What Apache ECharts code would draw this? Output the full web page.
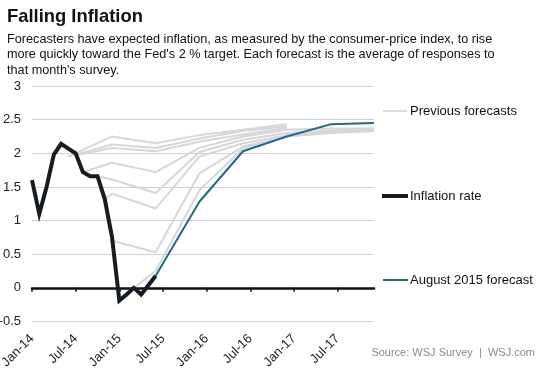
<!DOCTYPE html>
<html><head><meta charset="utf-8">
<script src="https://cdn.jsdelivr.net/npm/echarts@6/dist/echarts.min.js"></script>
<style>html,body{margin:0;padding:0;background:#fff}#c{width:553px;height:369px}</style>
</head><body><div id="c"></div>
<script>
const months = [
 'Jan-14','Feb-14','Mar-14','Apr-14','May-14','Jun-14','Jul-14','Aug-14','Sep-14','Oct-14','Nov-14','Dec-14',
 'Jan-15','Feb-15','Mar-15','Apr-15','May-15','Jun-15','Jul-15','Aug-15','Sep-15','Oct-15','Nov-15','Dec-15',
 'Jan-16','Feb-16','Mar-16','Apr-16','May-16','Jun-16','Jul-16','Aug-16','Sep-16','Oct-16','Nov-16','Dec-16',
 'Jan-17','Feb-17','Mar-17','Apr-17','May-17','Jun-17','Jul-17','Aug-17','Sep-17','Oct-17','Nov-17','Dec-17'
];
const yTicks = [-0.5, 0, 0.5, 1, 1.5, 2, 2.5, 3];

// Inflation rate, Jan-14 .. Jun-15
const inflation = [1.6, 1.1, 1.5, 1.98, 2.14, 2.07, 2.0, 1.72, 1.66, 1.66, 1.32, 0.75,
                   -0.19, -0.1, 0.0, -0.1, 0.04, 0.18];

// August 2015 forecast
const augForecast = [['Jun-15',0.18],['Dec-15',1.28],['Jun-16',2.03],['Dec-16',2.25],['Jun-17',2.43],['Dec-17',2.45]];

// Previous forecasts
const prev1 = [['Jun-14',1.95],['Dec-14',2.25],['Jun-15',2.15],['Dec-15',2.27],['Jun-16',2.35],['Dec-16',2.43]];
const prev2 = [['Jun-14',1.95],['Dec-14',2.13],['Jun-15',2.08],['Dec-15',2.22],['Jun-16',2.33],['Dec-16',2.40]];
const prev3 = [['Jul-14',1.97],['Dec-14',2.08],['Jun-15',2.03],['Dec-15',2.17],['Jun-16',2.28],['Dec-16',2.38]];
const prev4 = [['Aug-14',1.72],['Dec-14',1.86],['Jun-15',1.72],['Dec-15',2.08],['Jun-16',2.25],['Dec-16',2.35],['Jun-17',2.37],['Dec-17',2.37]];
const prev5 = [['Oct-14',1.66],['Dec-14',1.61],['Jun-15',1.41],['Dec-15',2.02],['Jun-16',2.2],['Dec-16',2.3],['Jun-17',2.34],['Dec-17',2.35]];
const prev6 = [['Nov-14',1.32],['Dec-14',1.40],['Jun-15',1.18],['Dec-15',1.95],['Jun-16',2.15],['Dec-16',2.27],['Jun-17',2.31],['Dec-17',2.33]];
const prev7 = [['Dec-14',0.70],['Jun-15',0.53],['Dec-15',1.7],['Jun-16',2.1],['Dec-16',2.25],['Jun-17',2.3],['Dec-17',2.33]];
const prev8 = [['Mar-15',0.0],['Jun-15',0.25],['Dec-15',1.45],['Jun-16',2.07],['Dec-16',2.25],['Jun-17',2.33],['Dec-17',2.37]];
const prevForecasts = [prev1, prev2, prev3, prev4, prev5, prev6, prev7, prev8];

const FONT = '"Liberation Sans", Arial, Helvetica, sans-serif';
const toXY = pts => pts.map(([m, v]) => [months.indexOf(m), v]);

const series = prevForecasts.map(p => ({
  type: 'line', data: toXY(p), symbol: 'none', silent: true, z: 2,
  lineStyle: { color: '#d6d6d6', width: 2 }
}));
series.push({
  type: 'line', data: toXY(augForecast), symbol: 'none', z: 3,
  lineStyle: { color: '#1f6a8c', width: 2 }
});
series.push({
  type: 'line', data: inflation.map((v, i) => [i, v]), symbol: 'none', z: 4,
  lineStyle: { color: '#161c22', width: 4, join: 'miter' }
});

const chart = echarts.init(document.getElementById('c'), null, { renderer: 'canvas' });
chart.setOption({
  animation: false,
  backgroundColor: '#fff',
  textStyle: { fontFamily: FONT },
  grid: { left: 32, right: 179, top: 86, bottom: 47.5, containLabel: false, outerBoundsMode: 'none' },
  xAxis: [{
    type: 'category', data: months, boundaryGap: false,
    axisLine: { show: false, onZero: false }, axisTick: { show: false },
    axisLabel: { interval: 5, rotate: 45, margin: 15, fontSize: 13, color: '#222', fontFamily: FONT },
    splitLine: { show: false }
  }, {
    type: 'category', data: months, boundaryGap: false, position: 'bottom',
    axisLine: { show: true, onZero: true, lineStyle: { color: '#111', width: 2.5 } },
    axisTick: { show: true, interval: 5, length: 4, lineStyle: { color: '#111', width: 1.5 } },
    axisLabel: { show: false }, splitLine: { show: false }
  }],
  yAxis: {
    type: 'value', min: yTicks[0], max: yTicks[yTicks.length - 1], interval: 0.5,
    axisLine: { show: false }, axisTick: { show: false },
    axisLabel: { margin: 11, fontSize: 13, color: '#222', fontFamily: FONT },
    splitLine: { lineStyle: { color: '#cfcfcf', width: 1.2 } }
  },
  series: series,
  graphic: [
    { type: 'text', left: 7, top: 8, style: { text: 'Falling Inflation', font: 'bold 18.4px ' + FONT, fill: '#111' } },
    { type: 'text', left: 7, top: 31.5, style: {
      text: "Forecasters have expected inflation, as measured by the consumer-price index, to rise\nmore quickly toward the Fed's 2 % target. Each forecast is the average of responses to\nthat month's survey.",
      font: '12.7px ' + FONT, fill: '#111', lineHeight: 15.4 } },
    { type: 'line', shape: { x1: 383, y1: 111, x2: 407, y2: 111 }, style: { stroke: '#cfcfcf', lineWidth: 1.5 } },
    { type: 'text', x: 410, y: 111, style: { text: 'Previous forecasts', font: '13px ' + FONT, fill: '#111', textVerticalAlign: 'middle' } },
    { type: 'line', shape: { x1: 382, y1: 196, x2: 408, y2: 196 }, style: { stroke: '#161c22', lineWidth: 4 } },
    { type: 'text', x: 410, y: 196, style: { text: 'Inflation rate', font: '13px ' + FONT, fill: '#111', textVerticalAlign: 'middle' } },
    { type: 'line', shape: { x1: 383, y1: 280, x2: 408, y2: 280 }, style: { stroke: '#1f6a8c', lineWidth: 2 } },
    { type: 'text', x: 410, y: 280, style: { text: 'August 2015 forecast', font: '13px ' + FONT, fill: '#111', textVerticalAlign: 'middle' } },
    { type: 'text', x: 535, y: 353, style: { text: 'Source: WSJ Survey  |  WSJ.com', font: '11px ' + FONT, fill: '#8a8a8a', textAlign: 'right', textVerticalAlign: 'middle' } }
  ]
});
</script></body></html>
